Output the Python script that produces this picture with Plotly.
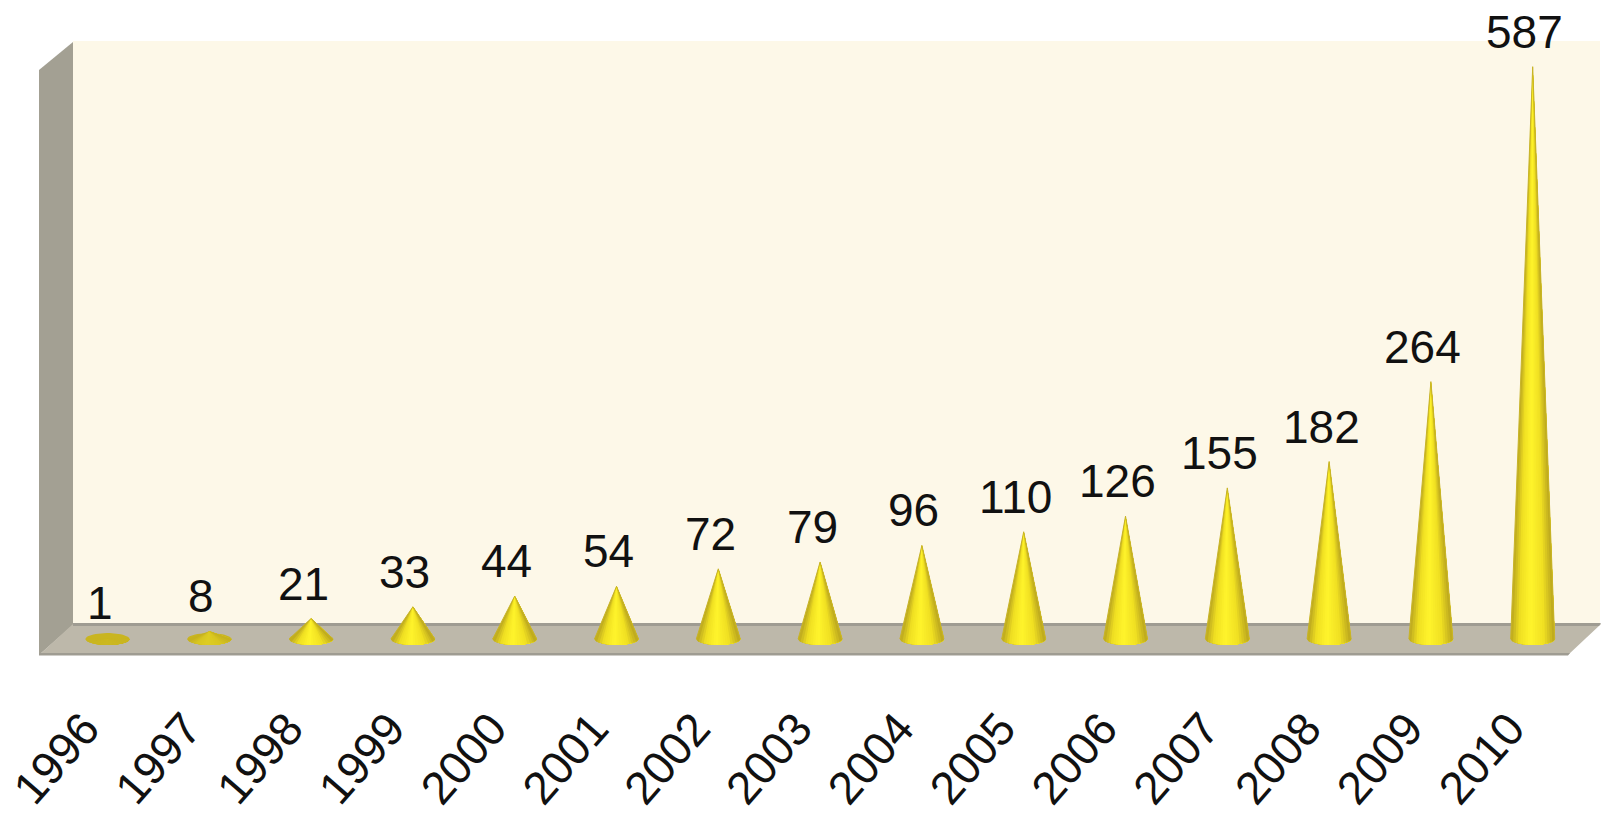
import numpy as np
import plotly.graph_objects as go

# Yearly counts drawn as shaded cones
years = [1996, 1997, 1998, 1999, 2000, 2001, 2002, 2003, 2004, 2005, 2006, 2007, 2008, 2009, 2010]
counts = [1, 8, 21, 33, 44, 54, 72, 79, 96, 110, 126, 155, 182, 264, 587]

WIDTH, HEIGHT = 1603, 814
PLOT_BOTTOM = 655
BASELINE_PX = 639
PX_PER_UNIT = 0.975
FIRST_X_PX = 107.5
PX_PER_YEAR = 101.8
CONE_RADIUS = 22 / PX_PER_YEAR
CONE_DEPTH = 6 / PX_PER_UNIT

WALL = "#fdf8e8"
SIDE_WALL = "#a3a093"
FLOOR = "#bdb8aa"
FLOOR_EDGE = "#9f9c92"
EDGE_YELLOW = np.array([186, 166, 30])
MID_YELLOW = np.array([240, 224, 34])
BRIGHT_YELLOW = np.array([255, 244, 44])
FLAT_OLIVE = np.array([201, 181, 32])


def paper_x(px):
    return px / WIDTH


def paper_y(px):
    return 1 - px / PLOT_BOTTOM


def polygon(points, fill):
    path = "M " + " L ".join(f"{paper_x(x):.5f},{paper_y(y):.5f}" for x, y in points) + " Z"
    return dict(type="path", path=path, xref="paper", yref="paper", fillcolor=fill,
                line=dict(width=0), layer="below")


def shade(t, flatness):
    # t runs from 0 at the left silhouette to 1 at the right one
    stops = [0.0, 0.2, 0.45, 0.75, 1.0]
    rgb = [np.interp(t, stops, [EDGE_YELLOW[i], MID_YELLOW[i], BRIGHT_YELLOW[i], MID_YELLOW[i], EDGE_YELLOW[i]])
           for i in range(3)]
    mixed = flatness * FLAT_OLIVE + (1 - flatness) * np.array(rgb)
    return "rgb({:.0f},{:.0f},{:.0f})".format(*mixed)


fig = go.Figure()

BANDS = 18
edges = np.linspace(-1, 1, BANDS + 1)
for year, count in zip(years, counts):
    flatness = max(0.0, 1 - count / 21)
    # back half of the base, visible on the flattest cones
    angle = np.linspace(0, 2 * np.pi, 48)
    fig.add_trace(go.Scatter(
        x=year + CONE_RADIUS * np.cos(angle), y=CONE_DEPTH * np.sin(angle),
        mode="lines", fill="toself", fillcolor=shade(0.0, 1.0), line=dict(width=0),
        hoverinfo="skip", showlegend=False))
    # each band runs through to the right silhouette so later ones paint over without seams
    for i in range(BANDS):
        sub = np.linspace(edges[i], 1.0, 24)
        xs = year + CONE_RADIUS * sub
        ys = -CONE_DEPTH * np.sqrt(1 - sub ** 2)
        fig.add_trace(go.Scatter(
            x=[year, *xs, year], y=[count, *ys, count],
            mode="lines", fill="toself", fillcolor=shade((i + 0.5) / BANDS, flatness),
            line=dict(width=0), hoverinfo="skip", showlegend=False))
    # darker silhouette edges that keep the long tips visible
    if count > 20:
        fig.add_trace(go.Scatter(
            x=[year - CONE_RADIUS, year, year + CONE_RADIUS], y=[0, count, 0],
            mode="lines", line=dict(width=1, color="rgb(200,180,40)"),
            hoverinfo="skip", showlegend=False))

for year, count in zip(years, counts):
    fig.add_annotation(x=year, y=count, text=str(count), showarrow=False,
                       xanchor="center", yanchor="bottom", xshift=-8, yshift=7,
                       font=dict(family="Liberation Sans", size=46, color="#111111"))

# Box frame: back wall, side wall, floor and the floor's edges
shapes = [
    polygon([(73, 41), (1600, 41), (1600, 625), (73, 625)], WALL),
    polygon([(39, 70), (73, 42), (73, 625), (39, 655)], SIDE_WALL),
    polygon([(39, 655), (73, 624), (1601, 624), (1568, 655)], FLOOR),
    polygon([(73, 623), (1601, 623), (1599, 626), (73, 626)], FLOOR_EDGE),
    polygon([(39, 653), (1570, 653), (1568, 655.5), (39, 655.5)], FLOOR_EDGE),
]

x_range = [1996 - FIRST_X_PX / PX_PER_YEAR, 1996 + (WIDTH - FIRST_X_PX) / PX_PER_YEAR]
y_range = [(BASELINE_PX - PLOT_BOTTOM) / PX_PER_UNIT, BASELINE_PX / PX_PER_UNIT]

fig.update_layout(
    width=WIDTH, height=HEIGHT,
    margin=dict(l=0, r=0, t=0, b=HEIGHT - PLOT_BOTTOM, pad=0),
    paper_bgcolor="white", plot_bgcolor="white",
    showlegend=False, shapes=shapes,
    xaxis=dict(range=x_range, automargin=False, showgrid=False, zeroline=False, showline=False, ticks="",
               tickmode="array", tickvals=years, ticktext=[str(y) for y in years],
               tickangle=-49, ticklabelstandoff=36, ticklabelshift=-23,
               tickfont=dict(family="Liberation Sans", size=46, color="#111111")),
    yaxis=dict(range=y_range, visible=False, automargin=False, showgrid=False, zeroline=False),
)

fig.write_html("out.html")
